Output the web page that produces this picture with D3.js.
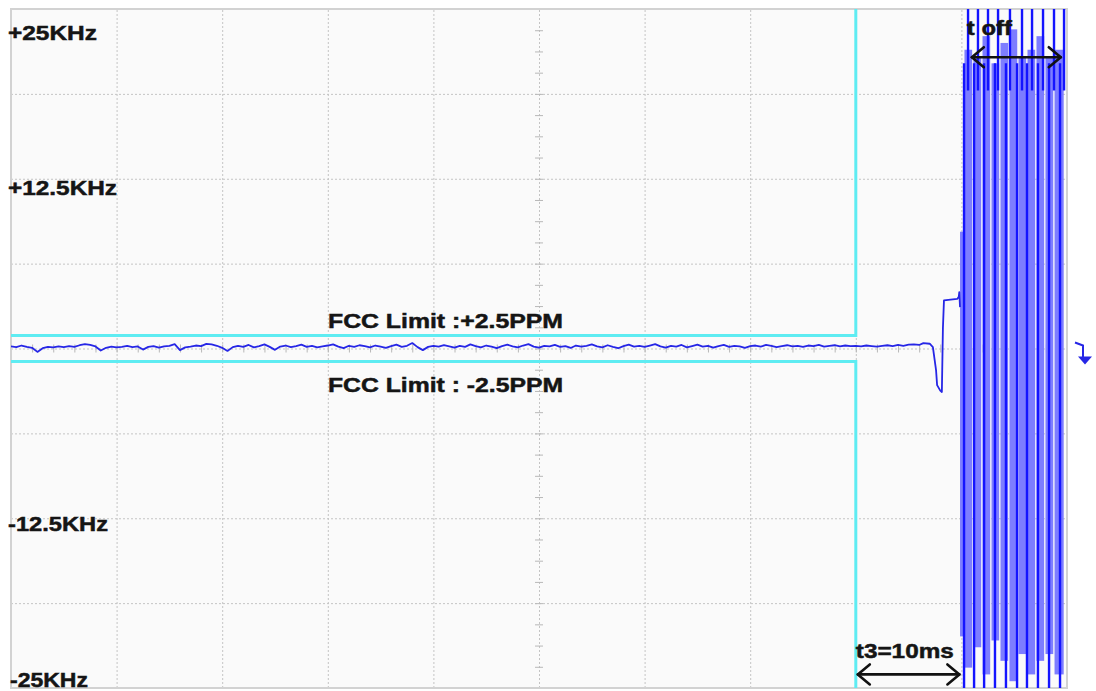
<!DOCTYPE html>
<html>
<head>
<meta charset="utf-8">
<script src="https://cdn.jsdelivr.net/npm/d3@7"></script>
<style>
  html, body { margin: 0; padding: 0; background: #ffffff; }
  svg { display: block; }
  text { font-family: "Liberation Sans", Arial, sans-serif; font-weight: bold; fill: #151515; stroke: #151515; stroke-width: 0.5px; }
</style>
</head>
<body>
<svg id="chart" width="1096" height="691"></svg>
<script>
// ---------------- DATA ----------------
const timeDomainMs = [0, 100];
const freqDomainKHz = [-25, 25];

const yTickValues = [25, 12.5, -12.5, -25];
const yTickLabels = ["+25KHz", "+12.5KHz", "-12.5KHz", "-25KHz"];

// demodulated frequency trace, sampled every 0.5 ms from 0 to 86 ms (KHz)
const noiseStepMs = 0.5;
const noiseKHz = [
  0.15, 0.10, 0.22, 0.12, 0.05, -0.25, 0.02, 0.12, 0.08, 0.16,
  0.10, 0.18, 0.12, 0.24, 0.32, 0.26, 0.15, -0.15, 0.05, 0.14,
  0.08, 0.12, 0.20, 0.10, 0.15, -0.08, 0.12, 0.18, 0.06, 0.16,
  0.20, 0.32, -0.12, 0.08, 0.14, 0.22, 0.18, 0.34, 0.30, 0.20,
  0.05, -0.18, 0.10, 0.20, 0.12, 0.26, 0.08, 0.18, 0.30, 0.12,
  -0.10, 0.14, 0.22, 0.10, 0.18, 0.28, 0.12, 0.20, 0.08, 0.16,
  0.22, 0.30, 0.14, 0.03, 0.20, 0.12, 0.24, 0.18, 0.08, 0.22,
  0.14, 0.04, 0.18, 0.28, 0.12, 0.20, 0.40, 0.10, -0.12, 0.12,
  0.20, 0.14, 0.24, 0.16, 0.06, 0.20, 0.12, 0.30, 0.18, 0.08,
  0.22, 0.14, 0.03, 0.18, 0.28, 0.16, 0.08, 0.22, 0.32, 0.14,
  0.06, 0.20, 0.15, 0.26, 0.12, 0.18, 0.04, 0.22, 0.14, 0.20,
  0.30, 0.16, 0.08, 0.24, 0.12, 0.02, 0.18, 0.28, 0.14, 0.20,
  0.12, 0.22, 0.32, 0.16, 0.06, 0.20, 0.14, 0.26, 0.08, 0.18,
  0.28, 0.14, 0.20, 0.06, 0.18, 0.26, 0.12, 0.20, 0.16, 0.04,
  0.18, 0.22, 0.14, 0.26, 0.20, 0.10, 0.18, 0.24, 0.16, 0.20,
  0.12, 0.22, 0.18, 0.26, 0.14, 0.20, 0.24, 0.16, 0.22, 0.18,
  0.20, 0.16, 0.22, 0.18, 0.14, 0.20, 0.24, 0.18, 0.26, 0.20,
  0.28, 0.30, 0.26
];

// transmitter switch-off transient (ms, KHz)
const tailT   = [86.4, 87.0, 87.3, 87.6, 87.7, 88.0, 88.15, 88.25, 88.35, 89.6, 89.75, 89.8, 89.87];
const tailKHz = [0.40, 0.35, 0.11, -1.6, -2.7, -3.1, -3.2, 1.5, 3.55, 3.65, 3.8, 4.15, 3.05];

// full-scale oscillation after switch-off (ms, KHz)
const burstBarT  = [89.87, 90.29, 91.14, 92.0, 92.85, 93.7, 94.55, 95.41, 96.26, 97.11, 97.96, 98.82];
const burstEndT  = 99.81;
const burstHiKHz = [8.6, 22.0, 21.5, 23.0, 21.0, 22.5, 23.5, 21.5, 22.0, 23.0, 21.5, 22.0];
const burstLoKHz = [-21.2, -23.5, -22.0, -24.0, -21.5, -23.0, -24.5, -22.5, -24.0, -23.0, -22.5, -24.0];
const burstLowLineT  = [90.25, 91.2, 92.15, 93.18, 94.22, 95.27, 96.21, 97.25, 98.3, 99.34];
const burstHighLineT = [90.63, 91.57, 92.52, 93.47, 94.6, 95.74, 96.69, 97.73, 98.77, 99.72];

// FCC limit mask
const fccLimitKHz = [0.96, -0.96];
const fccLimitLabels = ["FCC Limit :+2.5PPM", "FCC Limit : -2.5PPM"];
const fccMaskEndT = 80;

// time annotations
const annotLabels = ["t3=10ms", "t off"];
const annotSpansMs = [[80, 90], [90.8, 99.6]];
const annotLevelKHz = [-24, 21.45];

// ---------------- LAYOUT ----------------
const svg = d3.select("#chart");
const L = 11, R = 1067, T = 9, B = 688;
const x = d3.scaleLinear().domain(timeDomainMs).range([L, R]);
const y = d3.scaleLinear().domain(freqDomainKHz).range([B, T]);

svg.append("rect").attr("width", 1096).attr("height", 691).attr("fill", "#ffffff");
svg.append("rect").attr("x", L).attr("y", T).attr("width", R - L).attr("height", B - T)
  .attr("fill", "#fafafa");

svg.append("defs").append("clipPath").attr("id", "plotClip")
  .append("rect").attr("x", L).attr("y", T).attr("width", R - L).attr("height", B - T);

// grid through axes
const gridColor = "#c4c4c4";
const gx = svg.append("g").attr("transform", `translate(0,${B})`)
  .call(d3.axisBottom(x).tickValues(d3.range(10, 100, 10)).tickSize(-(B - T)).tickFormat(""));
const gy = svg.append("g").attr("transform", `translate(${L},0)`)
  .call(d3.axisLeft(y).tickValues(d3.range(-18.75, 25, 6.25)).tickSize(-(R - L)).tickFormat(""));
[gx, gy].forEach(g => {
  g.select(".domain").remove();
  g.selectAll("line").attr("stroke", gridColor).attr("stroke-dasharray", "2,2").attr("stroke-width", 1);
});

// minor ticks on the centre axes
const cx = x(50), cy = y(0);
const mY = svg.append("g").attr("transform", `translate(${cx - 4},0)`)
  .call(d3.axisRight(y).tickValues(d3.range(-25, 25.01, 1.5625)).tickSize(8).tickFormat(""));
const mX = svg.append("g").attr("transform", `translate(0,${cy - 4})`)
  .call(d3.axisBottom(x).tickValues(d3.range(0, 100.01, 2)).tickSize(8).tickFormat(""));
[mY, mX].forEach(g => {
  g.select(".domain").remove();
  g.selectAll("line").attr("stroke", "#b8b8b8").attr("stroke-width", 1);
});

// frame
svg.append("rect").attr("x", L).attr("y", T).attr("width", R - L).attr("height", B - T)
  .attr("fill", "none").attr("stroke", "#d2d2d2").attr("stroke-width", 2);

const plot = svg.append("g").attr("clip-path", "url(#plotClip)");

// FCC mask lines
const cyan = "#5eecf2";
fccLimitKHz.forEach((v, i) => {
  const edge = v > 0 ? freqDomainKHz[1] + 1 : freqDomainKHz[0] - 1;
  const pts = [[timeDomainMs[0], v], [fccMaskEndT, v], [fccMaskEndT, edge]];
  plot.append("path")
    .attr("d", d3.line().x(d => x(d[0])).y(d => y(d[1]))(pts))
    .attr("fill", "none").attr("stroke", cyan).attr("stroke-width", 3);
});

// burst: light bands
const lightBlue = "#7d7dff", darkBlue = "#1414ff";
plot.selectAll("rect.burst").data(burstBarT).enter().append("rect")
  .attr("class", "burst")
  .attr("x", d => x(d))
  .attr("width", (d, i) => {
    const next = i < burstBarT.length - 1 ? burstBarT[i + 1] : burstEndT;
    return Math.max(1, x(next) - x(d) - 1.3);
  })
  .attr("y", (d, i) => y(burstHiKHz[i]))
  .attr("height", (d, i) => y(burstLoKHz[i]) - y(burstHiKHz[i]))
  .attr("fill", lightBlue);

// burst: dark strokes
plot.selectAll("line.low").data(burstLowLineT).enter().append("line")
  .attr("x1", d => x(d)).attr("x2", d => x(d))
  .attr("y1", y(freqDomainKHz[0] - 1)).attr("y2", y(21))
  .attr("stroke", darkBlue).attr("stroke-width", 2.4);
plot.selectAll("line.high").data(burstHighLineT).enter().append("line")
  .attr("x1", d => x(d)).attr("x2", d => x(d))
  .attr("y1", y(freqDomainKHz[1] + 1)).attr("y2", y(19))
  .attr("stroke", darkBlue).attr("stroke-width", 2.4);

// main trace
const tracePts = noiseKHz.map((v, i) => [i * noiseStepMs, v])
  .concat(tailT.map((t, i) => [t, tailKHz[i]]));
plot.append("path")
  .attr("d", d3.line().x(d => x(d[0])).y(d => y(d[1]))(tracePts))
  .attr("fill", "none").attr("stroke", "#2626e6").attr("stroke-width", 1.8)
  .attr("stroke-linejoin", "round");

// y labels
const yLabelDy = [31, 16, 13, -1];
const yLabelW = [89, 109, 100, 78];
const yLabelX = [8, 8, 8, 10];
yTickValues.forEach((v, i) => {
  svg.append("text").attr("x", yLabelX[i]).attr("y", y(v) + yLabelDy[i])
    .attr("font-size", 21).attr("textLength", yLabelW[i]).attr("lengthAdjust", "spacingAndGlyphs")
    .text(yTickLabels[i]);
});

// FCC labels
const fccLabelDy = [-7, 30];
fccLimitKHz.forEach((v, i) => {
  svg.append("text").attr("x", 328).attr("y", y(v) + fccLabelDy[i])
    .attr("font-size", 21).attr("textLength", 235).attr("lengthAdjust", "spacingAndGlyphs")
    .text(fccLimitLabels[i]);
});

// annotations with double arrows
const annotTextDy = [-16, -22];
const annotTextW = [98, 45];
const annotTextDx = [0, -3];
annotSpansMs.forEach((span, i) => {
  const x0 = x(span[0]) + 2, x1 = x(span[1]) - 2, yy = y(annotLevelKHz[i]);
  const g = svg.append("g").attr("stroke", "#111").attr("stroke-width", 2.6).attr("fill", "none")
    .attr("stroke-linecap", "round").attr("stroke-linejoin", "round");
  g.append("line").attr("x1", x0).attr("x2", x1).attr("y1", yy).attr("y2", yy);
  g.append("polyline").attr("points", `${x0 + 12},${yy - 10} ${x0},${yy} ${x0 + 12},${yy + 10}`);
  g.append("polyline").attr("points", `${x1 - 12},${yy - 10} ${x1},${yy} ${x1 - 12},${yy + 10}`);
  svg.append("text").attr("x", x(span[0]) + annotTextDx[i]).attr("y", yy + annotTextDy[i])
    .attr("font-size", 21).attr("textLength", annotTextW[i]).attr("lengthAdjust", "spacingAndGlyphs")
    .text(annotLabels[i]);
});

// channel marker at right of the screen
const mk = svg.append("g").attr("transform", `translate(${R + 16},${y(0)})`);
mk.append("path").attr("d", "M-8,-6 L0,-3 L0,9").attr("fill", "none")
  .attr("stroke", "#2626e6").attr("stroke-width", 2);
mk.append("path").attr("d", "M-5,8 L9,8 L2,16 Z").attr("fill", "#2626e6");
</script>
</body>
</html>
